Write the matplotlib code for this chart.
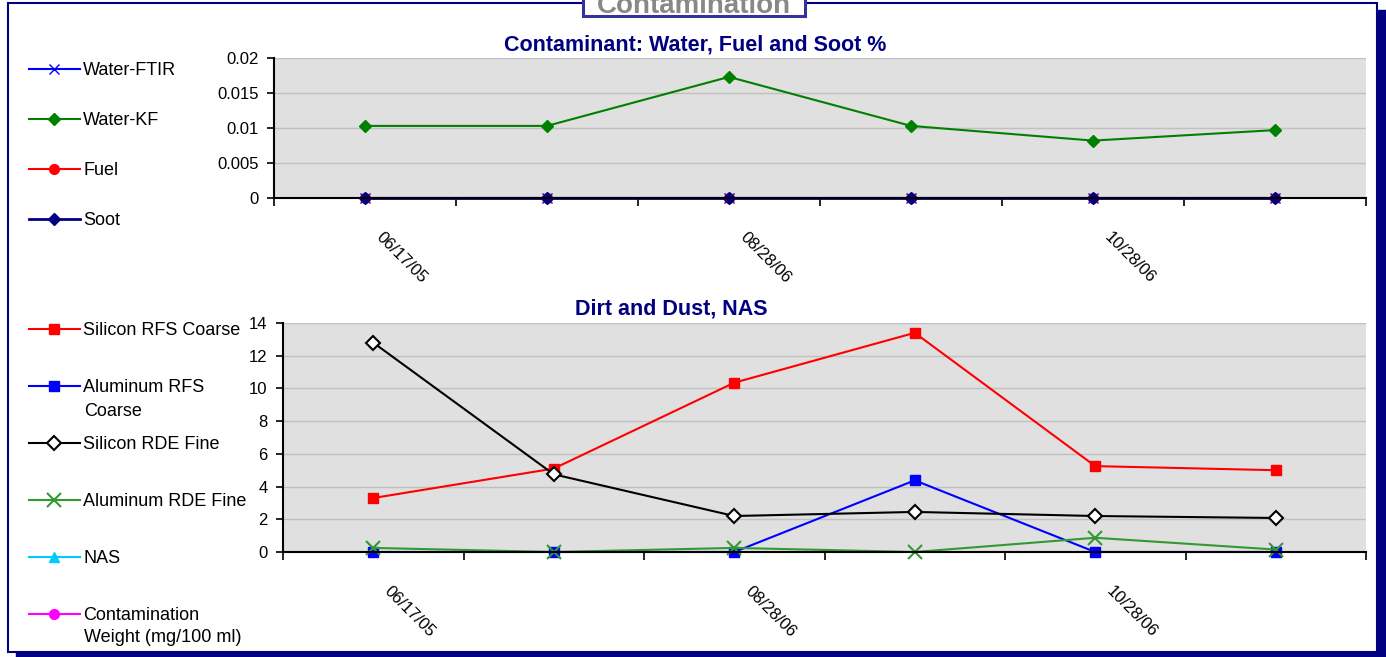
import numpy as np
import matplotlib
matplotlib.use("Agg")
import matplotlib.pyplot as plt
from matplotlib.patches import Rectangle

plt.rcParams["font.family"] = ["Liberation Sans", "DejaVu Sans"]

# categories (only every other label is shown on the axis)
dates = ["06/17/05", "", "08/28/06", "", "10/28/06", ""]
x = np.arange(len(dates))

# Contaminant: Water, Fuel and Soot %
water_ftir = [0, 0, 0, 0, 0, 0]
water_kf = [0.0103, 0.0103, 0.0173, 0.0103, 0.0082, 0.0097]
fuel = [0, 0, 0, 0, 0, 0]
soot = [0, 0, 0, 0, 0, 0]

# Dirt and Dust, NAS
si_rfs_coarse = [3.3, 5.1, 10.35, 13.4, 5.25, 5.0]
al_rfs_coarse = [0, 0, 0, 4.38, 0, 0]
si_rde_fine = [12.8, 4.75, 2.2, 2.45, 2.2, 2.08]
al_rde_fine = [0.25, 0, 0.25, 0, 0.87, 0.15]
nas = [np.nan] * 6
cont_weight = [np.nan] * 6

W, H = 1386, 657
fig = plt.figure(figsize=(W / 100, H / 100), dpi=100)


def fx(px):
    return px / W


def fy(py):
    return 1 - py / H


navy = "#000080"

# frame with drop shadow
fig.patches.append(Rectangle((fx(1377), fy(657)), fx(9), fy(10) - fy(657),
                             transform=fig.transFigure, color=navy, zorder=-10))
fig.patches.append(Rectangle((fx(16), fy(657)), fx(1370), fy(652) - fy(657),
                             transform=fig.transFigure, color=navy, zorder=-10))
fig.patches.append(Rectangle((fx(8), fy(652)), fx(1369), fy(3) - fy(652),
                             transform=fig.transFigure, facecolor="white",
                             edgecolor=navy, lw=1.5, zorder=-9))

# title box at the top, cut off by the image edge
fig.patches.append(Rectangle((fx(583), fy(16)), fx(222), fy(-20) - fy(16),
                             transform=fig.transFigure, facecolor="white",
                             edgecolor="#333399", lw=2.2, zorder=1))
fig.text(fx(694), fy(13), "Contamination", ha="center", va="baseline",
         fontsize=20, fontweight="bold", color="#888888", zorder=2)


def style_axes(ax):
    ax.set_facecolor("#e0e0e0")
    ax.set_xlim(-0.5, len(x) - 0.5)
    for s in ["top", "right"]:
        ax.spines[s].set_visible(False)
    for s in ["left", "bottom"]:
        ax.spines[s].set_color("black")
        ax.spines[s].set_linewidth(1.5)
    ax.yaxis.grid(True, color="#c0c0c0", lw=1)
    ax.set_axisbelow(True)
    ax.tick_params(axis="y", direction="out", length=5, width=1.2,
                   labelsize=12, pad=6)
    ax.set_xticks(np.arange(-0.5, len(x)), minor=True)
    ax.set_xticks([])
    ax.tick_params(axis="x", which="minor", direction="out", length=6,
                   width=1.2)
    for i, d in enumerate(dates):
        if d:
            ax.annotate(d, xy=(x[i], 0), xycoords=("data", "axes fraction"),
                        xytext=(6, -23), textcoords="offset points",
                        rotation=-45, ha="left", va="top", fontsize=12)


# top chart
ax1 = fig.add_axes([fx(274), fy(198), fx(1092), fy(58) - fy(198)])
style_axes(ax1)
ax1.plot(x, water_ftir, color="blue", marker="x", ms=7, lw=1.5, label="Water-FTIR")
ax1.plot(x, water_kf, color="#008000", marker="D", ms=6, lw=1.5, label="Water-KF")
ax1.plot(x, fuel, color="red", marker="o", ms=7, lw=1.5, label="Fuel")
ax1.plot(x, soot, color=navy, marker="D", ms=6, lw=2, label="Soot")
ax1.set_ylim(0, 0.02)
ax1.set_yticks([0, 0.005, 0.01, 0.015, 0.02],
               labels=["0", "0.005", "0.01", "0.015", "0.02"])
for ln in ax1.lines:
    ln.set_clip_on(False)
fig.text(fx(695), fy(45), "Contaminant: Water, Fuel and Soot %", ha="center",
         va="center", fontsize=15.5, fontweight="bold", color=navy)
fig.legend(handles=ax1.lines, loc="upper left",
           bbox_to_anchor=(fx(29), fy(62)), frameon=False, fontsize=13,
           handlelength=2.8, handletextpad=0.2, labelspacing=1.83,
           borderaxespad=0, borderpad=0)

# bottom chart
ax2 = fig.add_axes([fx(283), fy(552), fx(1083), fy(323) - fy(552)])
style_axes(ax2)
ax2.plot(x, si_rfs_coarse, color="red", marker="s", ms=7, lw=1.5,
         label="Silicon RFS Coarse")
ax2.plot(x, al_rfs_coarse, color="blue", marker="s", ms=7, lw=1.5,
         label="Aluminum RFS")
ax2.plot(x, si_rde_fine, color="black", marker="D", ms=7, mfc="white",
         mec="black", mew=1.5, lw=1.5, label="Silicon RDE Fine")
ax2.plot(x, al_rde_fine, color="#339933", marker="x", ms=10, mew=1.5, lw=1.5,
         label="Aluminum RDE Fine")
ax2.plot(x, nas, color="#00ccff", marker="^", ms=7, lw=1.5, label="NAS")
ax2.plot(x, cont_weight, color="#ff00ff", marker="o", ms=7, lw=1.5,
         label="Contamination")
ax2.set_ylim(0, 14)
ax2.set_yticks(np.arange(0, 15, 2))
for ln in ax2.lines:
    ln.set_clip_on(False)
fig.text(fx(671), fy(309), "Dirt and Dust, NAS", ha="center", va="center",
         fontsize=15.5, fontweight="bold", color=navy)
fig.legend(handles=ax2.lines, loc="upper left",
           bbox_to_anchor=(fx(29), fy(322)), frameon=False, fontsize=13,
           handlelength=2.8, handletextpad=0.2, labelspacing=2.22,
           borderaxespad=0, borderpad=0)
# second lines of the wrapped legend labels
fig.text(fx(84), fy(411), "Coarse", ha="left", va="center", fontsize=13)
fig.text(fx(84), fy(637), "Weight (mg/100 ml)", ha="left", va="center",
         fontsize=13)

fig.savefig("out.png", dpi=100)
